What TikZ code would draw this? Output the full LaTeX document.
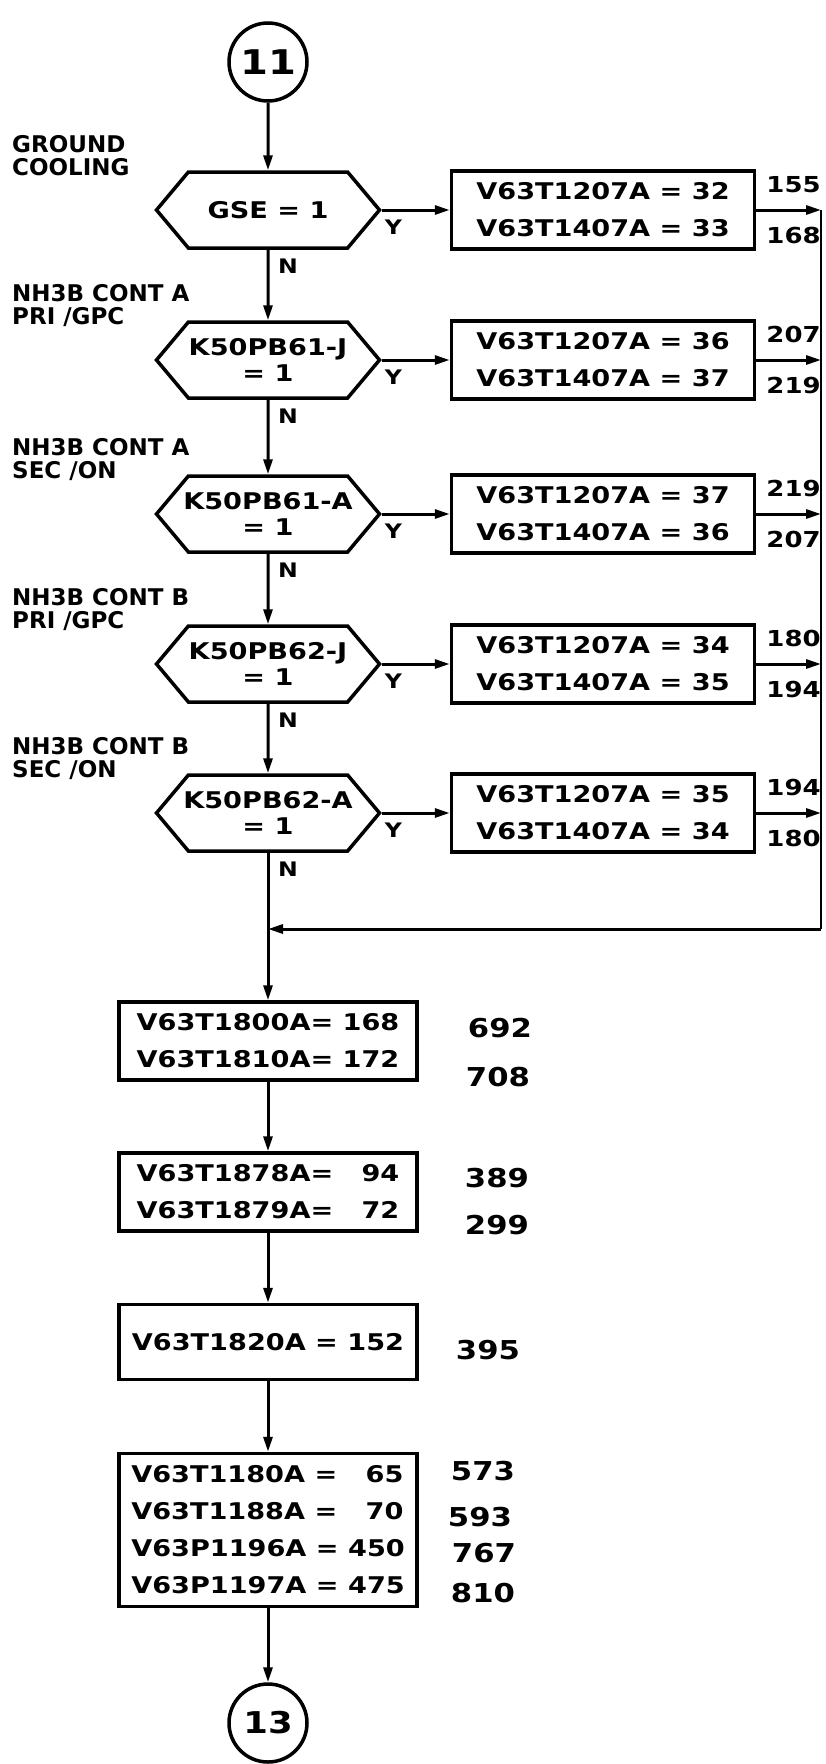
\documentclass[tikz,border=0pt]{standalone}
\usepackage{fontspec}
\setmainfont{DejaVu Sans}[FakeStretch=1.18]
\newfontfamily\notefont{DejaVu Sans}
\usetikzlibrary{arrows.meta, positioning, shapes.symbols}

\begin{document}
\begin{tikzpicture}[x=1pt, y=-1pt,
    conn/.style={line width=3pt, -{Triangle[length=15pt, width=9pt]}},
    wire/.style={line width=3pt},
    railline/.style={line width=2.5pt},
    term/.style={circle, draw, line width=3.5pt, minimum size=78pt, inner sep=0pt,
      font=\bfseries\fontsize{34}{34}\selectfont},
    decide/.style={signal, signal to=west and east, signal pointer angle=100,
      draw, line width=3.5pt, minimum width=223pt, minimum height=76pt,
      inner xsep=-30pt, inner ysep=0pt, align=center,
      font=\bfseries\fontsize{23}{26}\selectfont},
    setbox/.style={rectangle, draw, line width=3.5pt, minimum width=303pt,
      minimum height=78pt, align=left, font=\bfseries\fontsize{23}{37}\selectfont},
    calcbox/.style={setbox, minimum width=298pt},
    yn/.style={inner sep=0pt, font=\bfseries\fontsize{20}{20}\selectfont},
    note/.style={anchor=west, align=left, inner sep=0pt,
      font=\notefont\bfseries\fontsize{23}{23}\selectfont},
    idx/.style={inner sep=0pt, font=\bfseries\fontsize{22}{22}\selectfont},
    cnt/.style={inner sep=0pt, font=\bfseries\fontsize{26}{26}\selectfont},
  ]
  \useasboundingbox (0,0) rectangle (825,1764);

  % start connector
  \node[term] (c11) at (268, 62) {11};

  % decisions and the assignments they switch to
  \foreach \i/\y/\q/\t/\u/\v/\a/\b in {
      1/210/{GSE = 1}/{GROUND\\COOLING}/32/33/155/168,
      2/360/{K50PB61-J\\= 1}/{NH3B CONT A\\PRI /GPC}/36/37/207/219,
      3/514/{K50PB61-A\\= 1}/{NH3B CONT A\\SEC /ON}/37/36/219/207,
      4/664/{K50PB62-J\\= 1}/{NH3B CONT B\\PRI /GPC}/34/35/180/194,
      5/813/{K50PB62-A\\= 1}/{NH3B CONT B\\SEC /ON}/35/34/194/180} {
    \node[decide] (g\i) at (268, \y) {\q};
    \node[note] (l\i) at (12, \y-54) {\t};
    \node[yn, below right=10pt and 3pt of g\i.east] (y\i) {Y};
    \node[yn, below right=9pt and 10pt of g\i.south] (n\i) {N};
    \node[setbox] (s\i) at (603, \y) {V63T1207A = \u\\V63T1407A = \v};
    \node[idx, above right=17pt and 10pt of s\i.east] (ia\i) {\a};
    \node[idx, below right=17pt and 10pt of s\i.east] (ib\i) {\b};
  }

  % computed values
  \node[calcbox] (bA) at (268, 1041) {V63T1800A= 168\\V63T1810A= 172};
  \node[calcbox] (bB) at (268, 1192) {V63T1878A= \phantom{1}94\\V63T1879A= \phantom{1}72};
  \node[calcbox, minimum height=75pt] (bC) at (268, 1342) {V63T1820A = 152};
  \node[calcbox, minimum height=153pt] (bD) at (268, 1530)
    {V63T1180A = \phantom{4}65\\V63T1188A = \phantom{4}70\\V63P1196A = 450\\V63P1197A = 475};
  \foreach \x/\y/\c [count=\k] in {500/1028/692, 498/1077/708, 497/1178/389, 497/1225/299,
      488/1350/395, 483/1471/573, 480/1517/593, 484/1553/767, 483/1593/810} {
    \node[cnt] (k\k) at (\x, \y) {\c};
  }

  % end connector
  \node[term, font=\bfseries\fontsize{30}{30}\selectfont] (c13) at (268, 1723) {13};

  \coordinate (rail) at (821, 929);
  \coordinate (join) at (268, 929);

  \draw[conn] (c11) -- (g1);
  \foreach \i [count=\j from 2] in {1,...,4} { \draw[conn] (g\i) -- (g\j); }
  \foreach \i in {1,...,5} {
    \draw[conn] (g\i.east) -- (s\i);
    \draw[conn] (s\i) -- (s\i -| rail);
  }
  \draw[railline] (s1 -| rail) -- (rail);
  \draw[conn] (rail) -- (join);
  \draw[wire] (g5) -- (join);
  \draw[conn] (join) -- (bA);
  \draw[conn] (bA) -- (bB);
  \draw[conn] (bB) -- (bC);
  \draw[conn] (bC) -- (bD);
  \draw[conn] (bD) -- (c13);
\end{tikzpicture}
\end{document}
